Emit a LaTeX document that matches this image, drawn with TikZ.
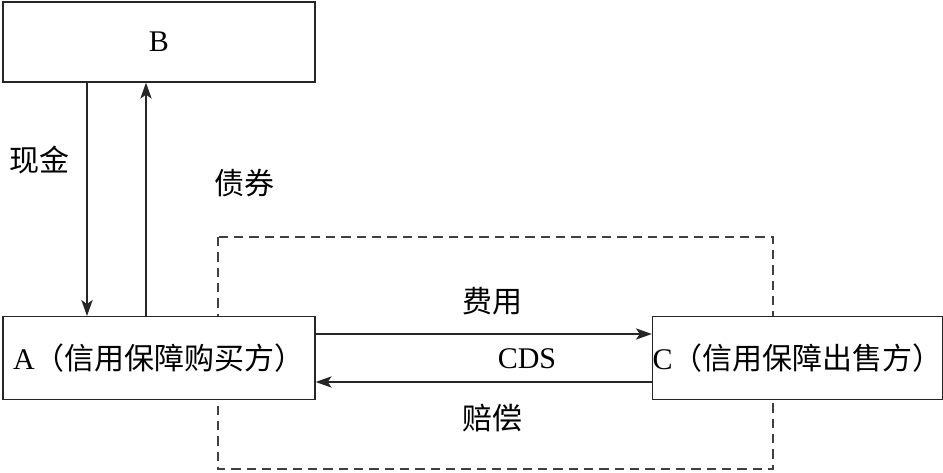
\documentclass[tikz,border=0pt]{standalone}
\usepackage{fontspec}
\setmainfont{Liberation Serif}
\newfontfamily\cjk{Noto Sans CJK SC}
\usetikzlibrary{arrows.meta}

\begin{document}
\begin{tikzpicture}[x=0.75pt,y=-0.75pt,
  box/.style={draw=black!85,line width=1pt,fill=white,inner sep=0pt},
  flow/.style={draw=black!85,line width=0.9pt,-{Stealth[length=12pt,width=8.5pt,inset=3pt]}},
  lbl/.style={inner sep=0pt}]
 \fontsize{22.5}{27}\selectfont
 \useasboundingbox (0,0) rectangle (943,473);
 \draw[black!75,line width=0.9pt,dash pattern=on 7pt off 4.5pt] (218,237) rectangle (773,469);
 \node[box,minimum width=234pt,minimum height=60pt] (B) at (159,42) {B};
 \node[box,minimum width=234pt,minimum height=62pt] (A) at (159,358) {A{\cjk （信用保障购买方）}};
 \node[box,minimum width=217.5pt,minimum height=62pt] (C) at (797.5,358) {C{\cjk （信用保障出售方）}};
 \draw[flow] (B.south -| 87,0) -- (A.north -| 87,0);
 \draw[flow] (A.north -| 146,0) -- (B.south -| 146,0);
 \draw[flow] (A.east |- 0,334) -- (C.west |- 0,334);
 \draw[flow] (C.west |- 0,382) -- (A.east |- 0,382);
 \node[lbl] (cash) at (40,160) {\cjk 现金};
 \node[lbl] (bond) at (244,183) {\cjk 债券};
 \node[lbl] (fee) at (492,301) {\cjk 费用};
 \node[lbl] (cds) at (527,359) {CDS};
 \node[lbl] (pay) at (492,418) {\cjk 赔偿};
\end{tikzpicture}
\end{document}
